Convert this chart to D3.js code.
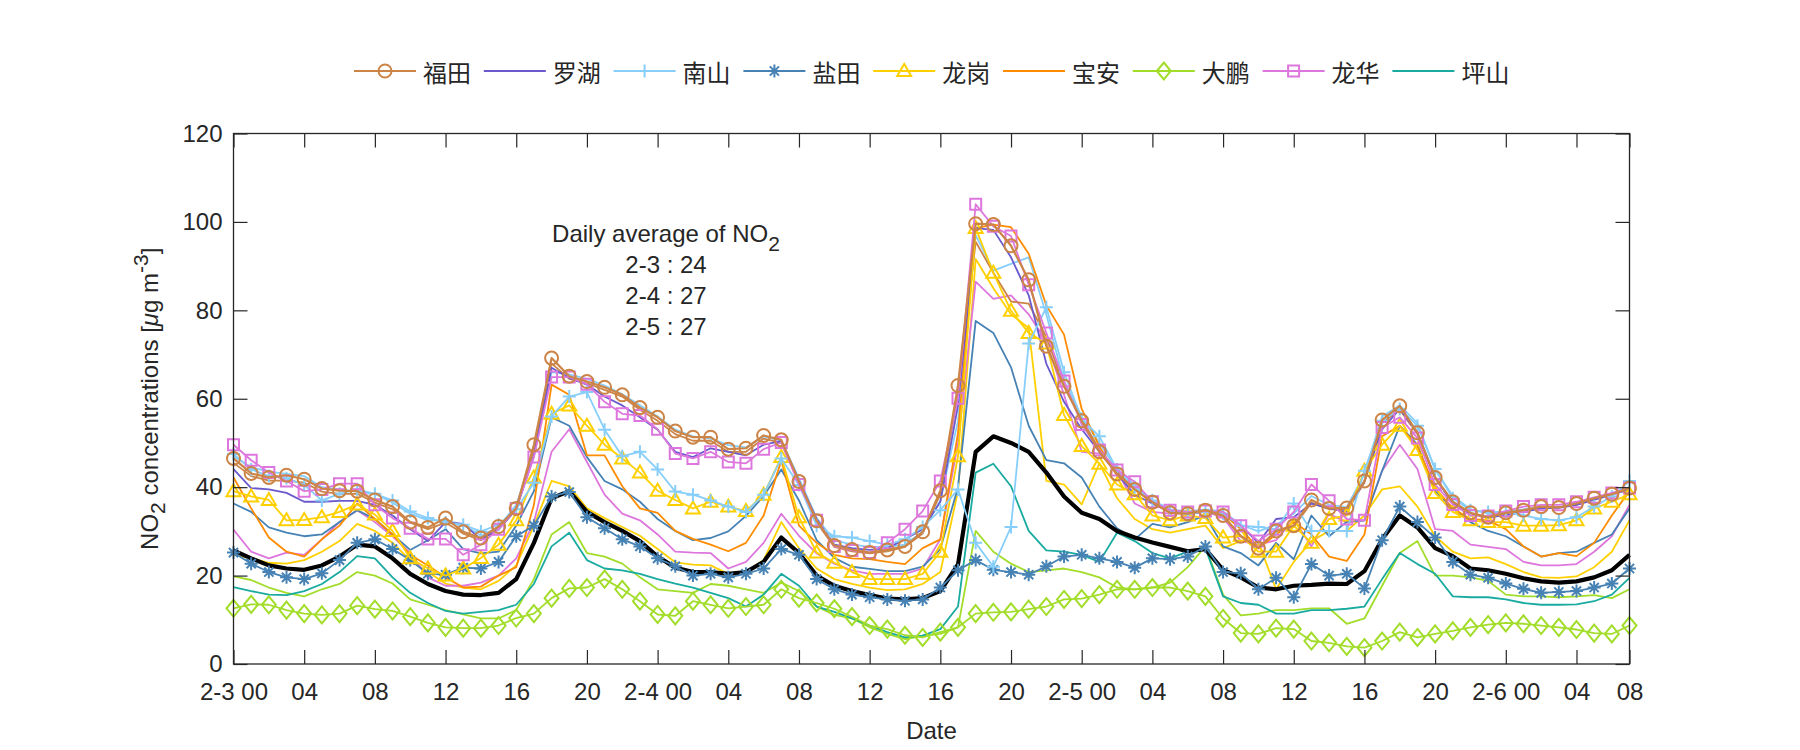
<!DOCTYPE html>
<html><head><meta charset="utf-8">
<script src="https://cdn.jsdelivr.net/npm/d3@7"></script>
<style>
html,body{margin:0;padding:0;background:#fff;}
svg text{font-family:"Liberation Sans",Arial,sans-serif;fill:#262626;}
</style></head>
<body><svg id="chart" width="1800" height="750"></svg>
<script>
// ---------------- data ----------------
const hours = d3.range(80); // hourly index from 2-3 00:00
const xTickValues = [0,4,8,12,16,20,24,28,32,36,40,44,48,52,56,60,64,68,72,76,79];
const xTickLabels = ["2-3 00","04","08","12","16","20","2-4 00","04","08","12","16","20","2-5 00","04","08","12","16","20","2-6 00","04","08"];
const yTickValues = [0,20,40,60,80,100,120];
const legendNames = ["福田","罗湖","南山","盐田","龙岗","宝安","大鹏","龙华","坪山"];
const dailyAvgLines = ["2-3 : 24","2-4 : 27","2-5 : 27"];

const futian = [46.5,43.1,42.2,42.7,41.8,39.7,39.2,39.1,37.1,35.6,
 32.1,30.9,33.0,29.9,28.5,31.1,35.2,49.6,69.2,65.1,
 63.9,62.6,60.9,58.0,55.8,52.7,51.3,51.3,48.6,48.8,
 51.7,50.7,41.3,32.4,26.8,25.9,25.2,25.8,26.6,29.9,
 39.2,63.0,99.6,99.4,94.6,86.9,71.9,62.8,55.0,48.0,
 43.0,39.5,36.6,34.2,34.0,34.8,33.6,28.9,26.2,30.1,
 31.3,37.1,35.2,35.3,41.4,55.2,58.4,52.3,42.2,36.7,
 34.2,33.2,34.2,34.8,35.6,35.4,36.3,37.5,38.4,39.8];
const luohu = [44.1,39.8,39.5,38.7,36.7,36.7,36.9,36.9,36.0,33.6,
 30.5,27.8,32.1,31.7,28.2,30.5,35.0,47.0,67.0,64.7,
 63.2,60.5,58.5,55.8,53.0,48.0,46.8,48.8,48.0,47.2,
 49.6,50.4,41.4,32.8,27.0,26.2,25.8,26.2,28.2,30.5,
 36.7,58.5,98.6,98.2,92.0,83.4,67.9,59.3,53.1,48.0,
 43.0,38.3,36.3,34.4,34.0,34.4,34.0,31.3,27.4,32.8,
 33.2,36.3,35.2,34.4,41.4,53.1,57.7,52.3,42.2,36.3,
 34.0,33.2,33.6,34.4,35.2,35.3,36.0,37.1,38.3,39.5];
const nanshan = [47.5,44.0,42.5,42.0,40.5,37.0,38.5,39.5,38.5,37.0,
 34.5,33.0,32.0,31.5,30.0,31.5,35.0,41.0,56.0,60.5,
 61.5,53.0,47.0,48.0,44.0,39.0,38.3,37.0,35.6,34.4,
 38.3,46.5,40.5,31.3,28.9,28.6,27.8,27.0,28.2,31.0,
 34.8,39.5,27.4,22.0,31.0,72.5,80.7,66.0,55.4,51.5,
 44.0,40.0,37.0,34.8,34.0,34.4,34.0,31.3,31.0,30.5,
 36.3,30.1,30.1,30.1,43.7,55.0,57.7,53.9,44.1,37.5,
 34.8,34.4,34.4,33.6,32.8,32.5,33.2,35.6,37.9,41.4];
const yantian = [25.2,22.7,20.8,19.6,19.2,20.5,23.5,27.4,28.2,26.0,
 23.5,20.4,20.2,21.8,21.6,23.1,28.9,31.3,37.9,38.9,
 33.2,30.7,28.2,26.6,23.9,22.1,20.0,20.4,19.6,20.4,
 21.6,26.0,24.7,19.2,16.9,15.7,15.1,14.6,14.3,14.6,
 17.3,21.2,23.5,21.3,20.8,20.2,22.1,24.3,24.7,23.9,
 23.1,21.8,23.9,23.7,24.3,26.6,20.8,20.5,16.9,19.5,
 15.1,22.6,20.0,20.4,17.1,28.0,35.6,32.1,28.6,23.1,
 20.2,19.5,18.2,17.0,16.1,16.3,16.5,17.3,18.2,21.6];
const longgang = [39.1,37.9,37.1,32.5,32.6,33.2,34.4,36.1,33.8,30.1,
 23.9,21.6,20.0,21.6,24.0,27.0,32.5,42.2,56.6,58.5,
 53.9,49.6,46.5,43.3,39.2,37.1,35.2,36.7,35.6,34.6,
 38.3,46.8,33.2,25.2,22.9,20.8,19.2,19.2,19.2,20.4,
 25.4,47.0,98.6,88.5,79.9,74.9,72.5,56.3,49.3,45.3,
 40.6,38.4,33.6,32.5,33.6,33.0,28.6,29.0,25.4,25.4,
 31.3,27.4,32.8,33.6,43.7,49.6,53.9,48.4,38.7,34.4,
 32.5,32.1,32.1,31.3,31.3,31.4,32.5,35.2,36.7,38.4];
const baoan = [42.2,35.2,28.6,25.4,24.3,28.2,31.3,36.3,32.8,29.3,
 24.7,22.3,19.6,17.3,17.5,20.0,21.9,36.0,63.2,60.9,
 47.2,47.2,40.2,35.2,34.2,30.1,28.3,27.0,25.5,27.4,
 33.6,46.0,31.3,27.4,24.7,23.9,23.7,23.1,22.6,26.2,
 28.2,52.3,98.6,99.4,98.8,92.8,81.1,74.5,57.7,49.2,
 42.6,39.8,36.3,34.4,34.0,34.8,34.0,30.5,26.2,29.3,
 32.1,29.3,24.3,23.3,29.3,51.5,53.9,49.2,39.8,35.2,
 32.8,32.5,30.5,26.6,24.3,25.1,24.4,27.4,33.6,39.1];
const dapeng = [12.6,13.5,13.4,12.2,11.4,11.1,11.4,13.2,12.4,12.0,
 10.7,9.3,8.3,8.1,8.1,8.7,10.4,11.4,14.9,17.1,
 17.3,19.2,16.9,14.2,11.2,10.9,14.2,13.4,12.6,13.0,
 13.4,16.9,14.9,13.8,12.5,10.7,8.7,7.9,6.5,6.0,
 7.2,8.3,11.4,11.7,11.8,12.4,13.0,14.6,14.8,15.7,
 16.9,16.9,17.3,17.3,16.5,15.3,10.3,7.0,6.8,8.1,
 7.9,5.2,4.8,4.0,3.7,5.2,7.2,6.0,6.8,7.5,
 8.3,8.9,9.3,9.1,8.7,8.3,7.8,7.0,6.8,8.7];
const longhua = [49.6,46.1,43.3,41.4,39.1,39.5,40.8,40.8,36.0,33.0,
 30.7,28.3,28.3,24.7,27.0,30.5,35.2,46.8,64.9,64.9,
 63.3,59.3,56.6,56.2,53.1,47.6,46.5,48.0,45.7,45.4,
 48.6,50.1,40.6,32.5,26.6,25.7,25.2,27.4,30.5,34.6,
 41.4,60.1,104.0,99.0,96.8,85.8,74.9,64.0,54.2,48.4,
 43.9,41.2,36.7,34.8,34.4,34.6,34.4,31.3,27.8,30.5,
 34.4,40.6,36.9,32.8,32.5,53.5,55.8,51.1,40.6,36.1,
 33.6,33.5,34.6,35.6,36.0,36.0,36.7,37.7,38.7,39.8];
const pingshan = [17.4,16.5,15.7,15.6,16.5,18.1,20.8,24.4,23.9,19.6,
 16.1,13.8,12.0,11.4,11.8,12.2,13.4,18.1,26.6,29.7,
 23.5,21.6,21.2,20.4,19.2,18.2,17.3,16.1,14.9,13.0,
 15.7,20.4,17.7,13.0,11.8,10.3,8.7,7.2,6.0,6.4,
 7.9,13.0,43.3,45.3,40.2,30.1,25.7,25.4,24.7,23.1,
 29.7,27.8,25.1,23.9,25.4,26.2,15.3,13.8,13.4,11.4,
 11.4,12.2,12.2,12.5,13.0,19.2,25.1,22.6,20.4,15.3,
 15.1,15.1,14.6,13.8,13.4,13.4,13.5,14.2,15.7,19.5];
const cityMean = [25.7,23.9,22.3,21.6,21.3,22.3,24.3,27.0,26.6,23.9,
 20.4,18.1,16.5,15.7,15.6,16.1,19.2,27.4,37.5,39.1,
 34.4,32.1,30.1,27.8,24.3,21.8,20.8,20.8,20.4,20.8,
 23.1,28.6,25.1,20.0,17.7,16.5,15.6,14.8,14.6,14.9,
 16.5,22.5,48.0,51.5,50.0,48.0,43.3,37.9,34.2,32.8,
 30.1,28.6,27.5,26.5,25.5,26.0,21.3,19.6,17.3,16.9,
 17.7,17.9,18.2,18.1,21.0,28.2,33.6,30.9,26.2,24.4,
 21.6,21.2,20.4,19.4,18.7,18.4,18.7,19.6,21.2,24.7];
// additional stations (same district colours, no markers)
const yantian2 = [36.3,34.4,30.9,29.7,28.9,29.3,32.1,34.8,32.8,29.3,
 25.8,28.0,30.5,26.0,25.0,25.4,31.3,39.1,55.8,53.9,
 46.8,41.4,39.5,36.7,32.8,30.1,28.0,28.5,30.0,33.5,
 38.0,44.0,37.0,28.0,24.0,22.0,21.5,21.0,21.0,22.0,
 26.0,40.0,77.6,74.9,67.1,53.9,46.1,45.4,42.2,35.6,
 30.7,28.2,31.7,30.9,32.1,33.6,26.6,25.1,22.3,27.4,
 23.7,33.6,28.9,32.2,32.5,43.7,53.9,49.6,39.1,35.2,
 32.1,30.1,28.9,26.6,24.3,25.1,25.4,27.4,29.3,35.2];
const longhua2 = [30.4,25.4,23.9,25.2,24.7,28.2,32.1,34.8,32.1,28.9,
 25.1,19.6,17.7,17.7,18.4,20.0,23.9,32.1,48.0,53.1,
 45.7,38.3,34.0,32.5,29.3,25.4,25.2,25.1,21.6,23.1,
 27.4,34.0,29.0,25.0,22.7,21.2,20.4,20.4,20.4,21.6,
 28.2,50.0,86.5,82.6,83.4,79.1,72.9,60.9,48.0,47.6,
 43.7,36.3,34.4,34.0,34.0,34.4,33.2,27.8,27.0,28.0,
 32.8,26.6,34.0,32.0,32.5,43.7,49.6,44.1,30.5,30.1,
 27.0,26.5,26.0,23.1,22.3,22.3,22.6,25.4,28.9,36.0];
const longgang2 = [24.7,23.9,22.9,22.7,23.5,25.4,27.8,31.7,30.1,27.4,
 23.5,20.8,18.2,17.3,16.9,18.8,22.3,31.3,41.4,40.2,
 35.2,33.0,31.0,29.0,26.0,23.0,22.5,22.3,20.4,20.8,
 23.5,32.1,26.2,21.6,19.2,18.1,17.3,16.7,16.9,18.1,
 20.8,39.1,91.6,85.0,79.1,76.0,41.4,40.6,36.1,45.4,
 37.5,32.8,30.5,29.7,30.5,31.3,26.2,27.8,27.5,16.9,
 23.1,27.8,30.1,30.1,33.6,39.5,40.2,35.6,28.9,25.4,
 23.9,24.1,22.6,20.8,19.6,19.5,19.8,21.9,25.4,32.5];
const dapeng2 = [19.8,19.0,17.3,16.1,15.3,16.9,18.1,20.8,20.0,18.2,
 14.6,13.4,12.2,11.2,10.3,10.3,12.2,19.2,29.3,32.1,
 25.1,24.3,22.7,19.6,16.9,16.5,16.1,18.1,17.7,16.9,
 16.1,18.4,16.5,13.0,11.1,10.3,8.3,6.8,5.6,6.4,
 6.8,8.3,30.1,25.4,22.7,20.8,21.2,21.6,20.8,19.6,
 17.3,16.9,17.3,18.4,21.9,26.6,15.7,11.0,11.4,12.2,
 12.2,12.6,12.6,9.1,10.3,17.7,25.1,27.8,20.0,20.0,
 19.6,18.8,15.7,15.3,15.3,15.1,15.3,15.6,14.9,16.9];
const nanshan2 = [47.0,44.5,43.5,43.0,42.5,40.0,39.5,39.0,38.5,36.5,
 34.0,32.5,32.5,31.5,29.0,31.0,36.0,48.0,66.0,65.5,
 64.5,63.0,61.0,58.5,56.0,53.0,51.5,51.0,49.5,49.0,
 51.5,50.5,42.0,33.0,28.0,27.0,26.5,26.5,27.0,30.0,
 37.0,55.0,97.0,89.0,90.5,92.0,79.0,64.0,56.0,50.0,
 44.0,40.5,37.0,35.0,34.5,35.0,34.5,31.5,30.0,31.5,
 34.0,38.0,36.0,35.5,43.0,56.0,58.5,54.5,44.0,38.0,
 35.0,34.0,34.5,35.0,35.5,35.5,36.5,37.5,38.5,40.0];
const futian2 = [45.5,42.5,41.5,41.5,41.0,39.0,38.5,38.5,36.5,35.0,
 32.0,30.5,32.0,29.5,28.0,30.5,35.0,48.5,68.0,64.5,
 63.5,62.0,60.5,57.5,55.0,52.0,50.5,50.5,48.0,48.0,
 51.0,50.0,41.0,32.0,26.5,25.5,25.0,25.5,26.5,29.5,
 38.5,61.0,95.5,88.5,82.0,81.5,74.0,63.0,55.5,48.5,
 43.5,39.5,36.5,34.5,34.0,34.5,33.5,29.0,26.5,30.0,
 31.0,36.5,35.0,35.0,41.0,54.5,57.5,52.0,42.0,36.5,
 34.0,33.0,34.0,34.5,35.5,35.5,36.0,37.5,38.5,39.5];

// ---------------- styles ----------------
const C = {futian:"#cc8447", luohu:"#6a5acd", nanshan:"#87cefa", yantian:"#4682b4",
  longgang:"#ffd000", baoan:"#ff8c00", dapeng:"#a2dd2a", longhua:"#dd77dd", pingshan:"#19aaa0"};

const series = [
  {v:dapeng2,  c:C.dapeng,   w:1.8, m:null},
  {v:longgang2,c:C.longgang, w:1.8, m:null},
  {v:longhua2, c:C.longhua,  w:1.8, m:null},
  {v:yantian2, c:C.yantian,  w:1.8, m:null},
  {v:nanshan2, c:C.nanshan,  w:1.8, m:null},
  {v:futian2,  c:C.futian,   w:1.8, m:null},
  {v:pingshan, c:C.pingshan, w:1.8, m:null},
  {v:baoan,    c:C.baoan,    w:1.8, m:null},
  {v:luohu,    c:C.luohu,    w:1.8, m:null},
  {v:cityMean, c:"#000000",  w:4.2, m:null},
  {v:dapeng,   c:C.dapeng,   w:1.8, m:"d"},
  {v:yantian,  c:C.yantian,  w:1.8, m:"*"},
  {v:longgang, c:C.longgang, w:1.8, m:"^"},
  {v:nanshan,  c:C.nanshan,  w:1.8, m:"+"},
  {v:longhua,  c:C.longhua,  w:1.8, m:"s"},
  {v:futian,   c:C.futian,   w:2.2, m:"o"}
];
const legendItems = [
  {c:C.futian,m:"o"},{c:C.luohu,m:null},{c:C.nanshan,m:"+"},{c:C.yantian,m:"*"},
  {c:C.longgang,m:"^"},{c:C.baoan,m:null},{c:C.dapeng,m:"d"},{c:C.longhua,m:"s"},{c:C.pingshan,m:null}
];

function markerPath(m){
  switch(m){
    case "o": return d3.symbol(d3.symbolCircle, Math.PI*6.5*6.5)();
    case "s": return "M-5.5,-5.5H5.5V5.5H-5.5Z";
    case "^": return "M0,-7L7,5L-7,5Z";
    case "d": return "M0,-8.5L7,0L0,8.5L-7,0Z";
    case "+": return "M-6.5,0H6.5M0,-6.5V6.5";
    case "*": return "M-6.5,0H6.5M0,-6.5V6.5M-4.6,-4.6L4.6,4.6M-4.6,4.6L4.6,-4.6";
  }
  return "";
}

// ---------------- chart ----------------
const svg = d3.select("#chart");
const L = 233.5, R = 1629.5, T = 133.5, B = 664;
const x = d3.scaleLinear().domain([0,79]).range([L,R]);
const y = d3.scaleLinear().domain([0,120]).range([B,T]);

const line = d3.line().x((d,i)=>x(hours[i])).y(d=>y(d));

const plot = svg.append("g");
series.forEach(s=>{
  plot.append("path").attr("d", line(s.v)).attr("fill","none")
    .attr("stroke", s.c).attr("stroke-width", s.w).attr("stroke-linejoin","round");
  if(s.m){
    plot.append("g").selectAll("path").data(s.v).join("path")
      .attr("transform",(d,i)=>`translate(${x(hours[i])},${y(d)})`)
      .attr("d", markerPath(s.m)).attr("fill","none")
      .attr("stroke", s.c).attr("stroke-width", 2);
  }
});

// axes
const axisFont = 24;
const gx = svg.append("g").attr("transform",`translate(0,${B})`)
  .call(d3.axisBottom(x).tickValues(xTickValues).tickFormat((d,i)=>xTickLabels[i])
    .tickSizeInner(-14).tickSizeOuter(0).tickPadding(19));
const gxt = svg.append("g").attr("transform",`translate(0,${T})`)
  .call(d3.axisTop(x).tickValues(xTickValues).tickFormat("").tickSizeInner(-14).tickSizeOuter(0));
const gy = svg.append("g").attr("transform",`translate(${L},0)`)
  .call(d3.axisLeft(y).tickValues(yTickValues).tickSizeInner(-14).tickSizeOuter(0).tickPadding(11));
const gyr = svg.append("g").attr("transform",`translate(${R},0)`)
  .call(d3.axisRight(y).tickValues(yTickValues).tickFormat("").tickSizeInner(-14).tickSizeOuter(0));
[gx,gxt,gy,gyr].forEach(g=>{
  g.select(".domain").remove();
  g.selectAll(".tick line").attr("stroke","#262626").attr("stroke-width",1.2);
  g.selectAll("text").attr("font-size",axisFont).attr("fill","#262626")
    .style("font-family","'Liberation Sans',Arial,sans-serif");
});
svg.append("rect").attr("x",L).attr("y",T).attr("width",R-L).attr("height",B-T)
  .attr("fill","none").attr("stroke","#262626").attr("stroke-width",1.3);

// axis titles
svg.append("text").attr("x",(L+R)/2).attr("y",739).attr("text-anchor","middle")
  .attr("font-size",24).text("Date");
const yl = svg.append("text").attr("transform",`translate(149,${(T+B)/2}) rotate(-90)`)
  .attr("text-anchor","middle").attr("dominant-baseline","central").attr("font-size",24);
yl.append("tspan").text("NO");
yl.append("tspan").attr("dy",8).attr("font-size",21).text("2");
yl.append("tspan").attr("dy",-8).text(" concentrations [");
yl.append("tspan").attr("font-style","italic").text("μ");
yl.append("tspan").text("g m");
yl.append("tspan").attr("dy",-9).attr("font-size",21).text("-3");
yl.append("tspan").attr("dy",9).text("]");

// annotation
const ann = svg.append("text").attr("x",666).attr("y",242).attr("text-anchor","middle").attr("font-size",24);
ann.append("tspan").text("Daily average of NO");
ann.append("tspan").attr("dy",9).attr("font-size",21).text("2");
dailyAvgLines.forEach((t,i)=>{
  svg.append("text").attr("x",666).attr("y",273+i*31).attr("text-anchor","middle")
    .attr("font-size",24).text(t);
});

// legend
const lg = svg.append("g");
legendItems.forEach((it,i)=>{
  const x0 = 354 + i*129.8, yc = 71;
  lg.append("line").attr("x1",x0).attr("x2",x0+62).attr("y1",yc).attr("y2",yc)
    .attr("stroke",it.c).attr("stroke-width",2);
  if(it.m) lg.append("path").attr("d",markerPath(it.m)).attr("transform",`translate(${x0+31},${yc})`)
    .attr("fill","none").attr("stroke",it.c).attr("stroke-width",2);
  lg.append("text").attr("x",x0+69).attr("y",yc).attr("dominant-baseline","central")
    .attr("font-size",24).style("font-family","'Noto Sans CJK SC',sans-serif").text(legendNames[i]);
});
</script></body></html>
